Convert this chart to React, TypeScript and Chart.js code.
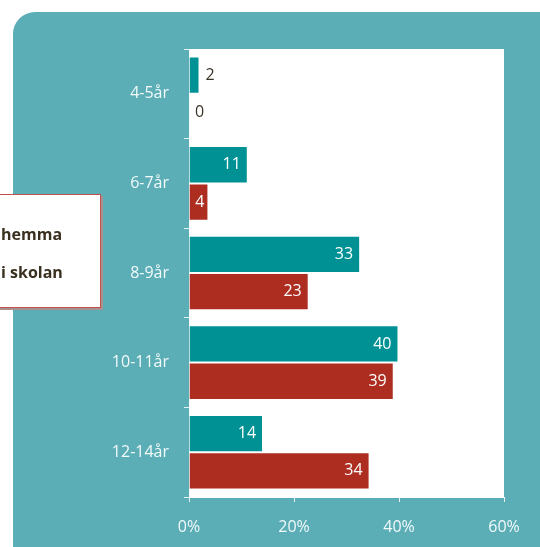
import React, { useEffect, useRef } from "react";
import { Chart, registerables } from "chart.js";

Chart.register(...registerables);

const categories = ["4-5år", "6-7år", "8-9år", "10-11år", "12-14år"];
const hemmaValues = [2.0, 11.2, 32.6, 39.9, 14.1];
const skolanValues = [0, 3.7, 22.8, 39.0, 34.4];
const seriesLabels = ["hemma", "i skolan"];
const xTicks = [0, 20, 40, 60];

const FONT = "'Open Sans', 'Noto Sans', sans-serif";
const TEAL = "#009194";
const RED = "#ad2e21";
const BG = "#5badb6";

const plotBgPlugin = {
  id: "plotBg",
  beforeDraw(chart: any) {
    const { ctx, chartArea } = chart;
    ctx.save();
    ctx.fillStyle = "#ffffff";
    ctx.fillRect(chartArea.left, chartArea.top, chartArea.right - chartArea.left, chartArea.bottom - chartArea.top);
    ctx.restore();
  },
};

const valueLabelPlugin = {
  id: "valueLabels",
  afterDatasetsDraw(chart: any) {
    const { ctx } = chart;
    ctx.save();
    ctx.font = `16px ${FONT}`;
    ctx.textBaseline = "middle";
    chart.data.datasets.forEach((ds: any, di: number) => {
      const meta = chart.getDatasetMeta(di);
      meta.data.forEach((bar: any, i: number) => {
        const v = ds.data[i];
        const txt = String(Math.round(v));
        const w = ctx.measureText(txt).width;
        const barLen = bar.x - bar.base;
        if (barLen > w + 8) {
          ctx.fillStyle = "#ffffff";
          ctx.textAlign = "right";
          const pad = barLen < w + 14 ? 4 : 7;
          ctx.fillText(txt, bar.x - pad, bar.y);
        } else {
          ctx.fillStyle = "#3b3426";
          ctx.textAlign = "left";
          ctx.fillText(txt, bar.x + 6, bar.y);
        }
      });
    });
    ctx.restore();
  },
};

export default function App() {
  const canvasRef = useRef<HTMLCanvasElement>(null);

  useEffect(() => {
    if (!canvasRef.current) return;
    const chart = new Chart(canvasRef.current, {
      type: "bar",
      data: {
        labels: categories,
        datasets: [
          {
            label: seriesLabels[0],
            data: hemmaValues,
            backgroundColor: TEAL,
            borderColor: "rgba(255,255,255,0.45)",
            borderWidth: 1,
            categoryPercentage: 0.833,
            barPercentage: 1,
          },
          {
            label: seriesLabels[1],
            data: skolanValues,
            backgroundColor: RED,
            borderColor: "rgba(255,255,255,0.45)",
            borderWidth: 1,
            categoryPercentage: 0.833,
            barPercentage: 1,
          },
        ],
      },
      options: {
        indexAxis: "y",
        animation: false,
        responsive: true,
        maintainAspectRatio: false,
        layout: { padding: { left: 0, right: 36, top: 49, bottom: 0 } },
        plugins: {
          legend: { display: false },
          tooltip: { enabled: false },
        },
        scales: {
          x: {
            min: 0,
            max: 60,
            afterBuildTicks: (scale: any) => {
              scale.ticks = xTicks.map((v) => ({ value: v }));
            },
            afterFit: (scale: any) => {
              scale.height = 50;
            },
            ticks: {
              color: "#f2fafa",
              font: { family: FONT, size: 16 },
              padding: 16,
              callback: (v: any) => v + "%",
            },
            grid: {
              drawOnChartArea: false,
              tickLength: 5,
              color: "#e6f3f4",
            },
            border: { display: true, color: "#ffffff" },
          },
          y: {
            afterFit: (scale: any) => {
              scale.width = 189;
            },
            ticks: {
              color: "#f2fafa",
              font: { family: FONT, size: 16 },
              padding: 15,
            },
            grid: {
              drawOnChartArea: false,
              tickLength: 5,
              color: "#e6f3f4",
              offset: true,
            },
            border: { display: true, color: "#f4fbfb" },
          },
        },
      },
      plugins: [plotBgPlugin, valueLabelPlugin],
    });
    return () => chart.destroy();
  }, []);

  return (
    <div
      style={{
        position: "absolute",
        left: 0,
        top: 0,
        width: 540,
        height: 547,
        overflow: "hidden",
        background: "#ffffff",
      }}
    >
      <div
        style={{
          position: "absolute",
          left: 13,
          top: 12,
          width: 620,
          height: 620,
          borderRadius: 22,
          background: BG,
        }}
      />
      <div style={{ position: "absolute", left: 0, top: 0, width: 540, height: 547 }}>
        <canvas ref={canvasRef} />
      </div>
      <div
        style={{
          position: "absolute",
          left: -60,
          top: 194,
          width: 159,
          height: 112,
          background: "#ffffff",
          border: "1px solid #c0504d",
          boxShadow: "2px 2px 0 #a89290",
          fontFamily: FONT,
          fontWeight: 700,
          fontSize: 16,
          color: "#3a3020",
        }}
      >
        <div style={{ position: "absolute", left: 60, top: 27, lineHeight: "24px", whiteSpace: "nowrap" }}>
          {seriesLabels[0]}
        </div>
        <div style={{ position: "absolute", left: 60, top: 65, lineHeight: "24px", whiteSpace: "nowrap" }}>
          {seriesLabels[1]}
        </div>
      </div>
    </div>
  );
}
